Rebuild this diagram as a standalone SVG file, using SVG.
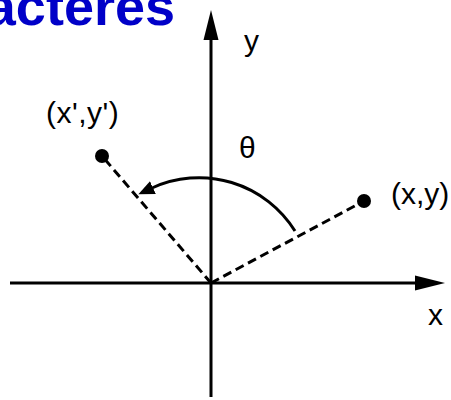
<svg xmlns="http://www.w3.org/2000/svg" width="451" height="400" viewBox="0 0 451 400">
  <style>
    .axis { stroke: #000; stroke-width: 3; fill: none; }
    .dash { stroke: #000; stroke-width: 3; fill: none; stroke-dasharray: 9 5; }
    .arc { stroke: #000; stroke-width: 3; fill: none; }
    .dot { fill: #000; }
    .lbl { font-family: "Liberation Sans", Arial, sans-serif; font-size: 30px; fill: #000; }
    .title { font-family: "Liberation Sans", Arial, sans-serif; font-size: 54px; font-weight: bold; fill: #0000C8; }
  </style>
  <defs>
    <marker id="axisHead" markerUnits="userSpaceOnUse" markerWidth="32" markerHeight="18" viewBox="0 -8 32 16" refX="2" refY="0" orient="auto">
      <path d="M0,-7.5 L30,0 L0,7.5 z" fill="#000"/>
    </marker>
    <marker id="arcHead" markerUnits="userSpaceOnUse" markerWidth="18" markerHeight="16" viewBox="0 -8 18 16" refX="1" refY="0" orient="auto">
      <path d="M0,-7 L16,0 L0,7 z" fill="#000"/>
    </marker>
  </defs>

  <text id="title" class="title" x="175" y="25" text-anchor="end">acteres</text>

  <g id="connectors">
    <line id="x-axis" class="axis" x1="10" y1="283" x2="417" y2="283" marker-end="url(#axisHead)"/>
    <line id="y-axis" class="axis" x1="211" y1="397" x2="211" y2="38" marker-end="url(#axisHead)"/>
    <line id="dash-xy" class="dash" x1="211" y1="283" x2="364" y2="201"/>
    <line id="dash-xpyp" class="dash" x1="211" y1="283" x2="102" y2="156"/>
    <path id="theta-arc" class="arc" d="M295,231 A113,113 0 0 0 152,188" marker-end="url(#arcHead)"/>
  </g>

  <g id="point-xy">
    <circle class="dot" cx="364" cy="201" r="7"/>
    <text class="lbl" x="391" y="203.5">(x,y)</text>
  </g>
  <g id="point-xpyp">
    <circle class="dot" cx="102" cy="156" r="7"/>
    <text class="lbl" x="46" y="122.5" letter-spacing="0.5">(x',y')</text>
  </g>
  <g id="label-theta">
    <text class="lbl" x="239" y="158">θ</text>
  </g>
  <g id="label-y">
    <text class="lbl" x="244" y="51">y</text>
  </g>
  <g id="label-x">
    <text class="lbl" x="428" y="325">x</text>
  </g>
</svg>
